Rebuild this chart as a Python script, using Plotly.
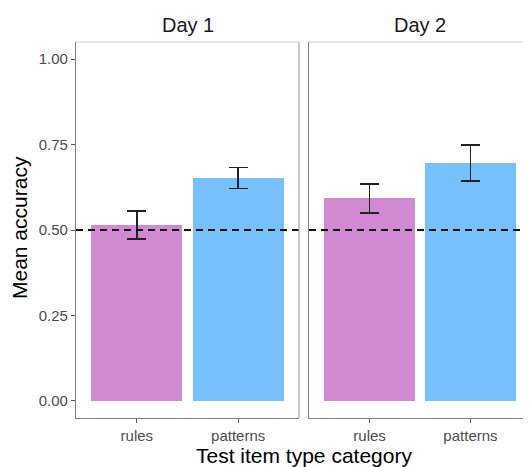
import plotly.graph_objects as go
from plotly.subplots import make_subplots

categories = ["rules", "patterns"]
days = ["Day 1", "Day 2"]
day1_mean = [0.514, 0.651]
day1_low = [0.474, 0.622]
day1_high = [0.555, 0.683]
day2_mean = [0.593, 0.695]
day2_low = [0.549, 0.644]
day2_high = [0.635, 0.749]
bar_colors = ["#D18AD2", "#76C1FC"]
chance = 0.5
y_ticks = [0, 0.25, 0.5, 0.75, 1.0]
y_ticktext = ["0.00", "0.25", "0.50", "0.75", "1.00"]

# page body has an 8px margin; figure sized to fill the 531x467 window
W, H = 523, 459
L, R, T, B = 68, 0, 34, 49
pw = W - L - R
d1 = [0, 223 / pw]
d2 = [233 / pw, 1]

fig = make_subplots(rows=1, cols=2, shared_yaxes=True)
FONT = "Liberation Sans, Arial, Helvetica, sans-serif"

for i, (m, lo, hi) in enumerate([(day1_mean, day1_low, day1_high), (day2_mean, day2_low, day2_high)]):
    fig.add_trace(go.Bar(
        x=categories, y=m, width=0.9,
        marker=dict(color=bar_colors, line=dict(width=0)),
        error_y=dict(type="data", symmetric=False,
                     array=[h - v for h, v in zip(hi, m)],
                     arrayminus=[v - l for v, l in zip(m, lo)],
                     color="#222222", thickness=1.6, width=9.5),
        showlegend=False, hoverinfo="skip"), row=1, col=i + 1)

axis_common = dict(showgrid=False, zeroline=False, ticks="outside", ticklen=4,
                   tickcolor="#555555", tickwidth=1.2,
                   tickfont=dict(size=15, color="#4D4D4D", family=FONT),
                   showline=True, linecolor="#7F7F7F", linewidth=1.2, mirror=False)

fig.update_xaxes(type="category", range=[-0.6, 1.6], **axis_common)
fig.update_yaxes(range=[-0.05, 1.05], tickvals=y_ticks, ticktext=y_ticktext, **axis_common)
fig.update_xaxes(domain=d1, row=1, col=1)
fig.update_xaxes(domain=d2, row=1, col=2)
fig.update_yaxes(showline=True, showticklabels=False, ticks="", row=1, col=2)

for xr, yr in [("x", "y"), ("x2", "y2")]:
    dom = "x domain" if xr == "x" else "x2 domain"
    ydom = "y domain" if yr == "y" else "y2 domain"
    fig.add_shape(type="line", xref=dom, yref=yr, x0=0, x1=1, y0=chance, y1=chance,
                  line=dict(color="#111111", width=1.8, dash="7px,5px"))
    # top and right panel border
    fig.add_shape(type="line", xref=dom, yref=ydom, x0=0, x1=1, y0=1, y1=1,
                  line=dict(color="#CFCFCF", width=1.2))
    fig.add_shape(type="line", xref=dom, yref=ydom, x0=1, x1=1, y0=0, y1=1,
                  line=dict(color="#A8A8A8" if xr == "x" else "#E0E0E0", width=1.2))

for d, xr in zip(days, ["x domain", "x2 domain"]):
    fig.add_annotation(text=d, xref=xr, yref="paper", x=0.5, xanchor="center",
                       y=1, yshift=17, yanchor="middle", showarrow=False,
                       font=dict(size=20, color="#1A1A1A", family=FONT))

fig.add_annotation(text="Mean accuracy", xref="paper", yref="paper", x=0, xshift=-57,
                   y=0.5, yshift=2, textangle=-90, showarrow=False, xanchor="center",
                   yanchor="middle", font=dict(size=21, color="#000000", family=FONT))
fig.add_annotation(text="Test item type category", xref="paper", yref="paper", x=0.5,
                   xanchor="center", y=0, yshift=-37, yanchor="middle", showarrow=False,
                   font=dict(size=21, color="#000000", family=FONT))

fig.update_layout(width=W, height=H, margin=dict(l=L, r=R, t=T, b=B),
                  plot_bgcolor="white", paper_bgcolor="white", bargap=0,
                  font=dict(family=FONT))
fig.write_html("out.html")
